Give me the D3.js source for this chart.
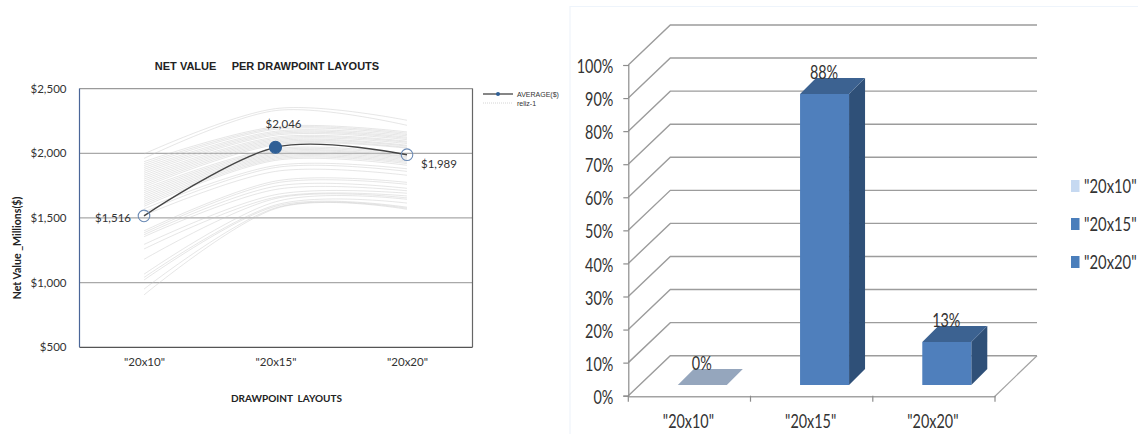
<!DOCTYPE html>
<html>
<head>
<meta charset="utf-8">
<script src="https://cdn.jsdelivr.net/npm/d3@7"></script>
<style>
html,body{margin:0;padding:0;background:#fff;overflow:hidden}
svg{display:block}
text{font-family:Lato,"Open Sans",sans-serif}
</style>
</head>
<body>
<svg id="chart" width="1138" height="434"></svg>
<script>
// Net value per layout
const layouts = ['"20x10"', '"20x15"', '"20x20"'];
const netTicks = [500, 1000, 1500, 2000, 2500];
const averageValues = [1516, 2046, 1989];
const realizationStart = [1995,1960,1935,1920,1905,1890,1875,1860,1845,1830,1815,1800,1785,1770,1755,1740,1725,1710,1695,1680,1665,1650,1635,1620,1605,1590,1570,1545,1520,1400,1385,1370,1355,1295,1260,1180,1065,1040,1020,950,905];
const realizationMid = [2345,2330,2205,2195,2185,2170,2160,2150,2140,2125,2115,2105,2095,2085,2075,2065,2035,2025,2015,2005,1995,1985,1975,1965,1955,1945,1905,1890,1860,1785,1770,1745,1720,1680,1660,1650,1625,1600,1590,1578,1572];
const realizationEnd = [2255,2216,2165,2155,2145,2135,2124,2115,2105,2093,2085,2075,2062,2055,2045,2039,1995,1985,1975,1969,1960,1950,1940,1930,1920,1907,1880,1860,1830,1775,1760,1729,1710,1691,1670,1655,1644,1615,1583,1575,1567];

// Share of runs per layout
const shareTicks = [0,10,20,30,40,50,60,70,80,90,100];
const shareValues = [0, 88, 13];
const legendColors = ["#c6d9f1", "#4a7ebb", "#4a7ebb"];

const svg = d3.select("#chart");

/* ---------- left panel: line chart ---------- */
const left = svg.append("g");
const xNet = d3.scalePoint().domain(layouts).range([144, 407]);
const yNet = d3.scaleLinear().domain([500, 2500]).range([347.3, 88.6]);
const smooth = d3.line().x((d, i) => xNet(layouts[i])).y(d => yNet(d))
  .curve(d3.curveCardinal.tension(0));

// horizontal gridlines
left.selectAll("line.grid").data([1000, 1500, 2000]).join("line")
  .attr("x1", 79.5).attr("x2", 472.5)
  .attr("y1", d => yNet(d)).attr("y2", d => yNet(d))
  .attr("stroke", "#a9a9a9").attr("stroke-width", 1.3);

// individual realizations
const realizations = realizationStart.map((s, i) => [s, realizationMid[i], realizationEnd[i]]);
left.selectAll("path.reliz").data(realizations).join("path")
  .attr("class", "reliz").attr("d", smooth).attr("fill", "none")
  .attr("stroke", "#c6c6c6").attr("stroke-width", 0.8).attr("stroke-opacity", 0.55);

// plot frame
left.append("line").attr("x1", 79.5).attr("x2", 472.5).attr("y1", 88.6).attr("y2", 88.6).attr("stroke", "#9a9a9a").attr("stroke-width", 1.2);
left.append("line").attr("x1", 472.5).attr("x2", 472.5).attr("y1", 88.6).attr("y2", 347.3).attr("stroke", "#666").attr("stroke-width", 1.2);
left.append("line").attr("x1", 79.5).attr("x2", 472.5).attr("y1", 347.3).attr("y2", 347.3).attr("stroke", "#555").attr("stroke-width", 1.2);
left.append("line").attr("x1", 79.5).attr("x2", 79.5).attr("y1", 88.6).attr("y2", 347.3).attr("stroke", "#4a6698").attr("stroke-width", 1.2);

// axis labels
const yAxisNet = left.append("g").attr("transform", "translate(79.5,0)")
  .call(d3.axisLeft(yNet).tickValues(netTicks).tickSize(0).tickPadding(13).tickFormat(d3.format("$,")));
yAxisNet.select(".domain").remove();
yAxisNet.selectAll("text").attr("font-size", 11.5).attr("fill", "#333").style("font-family", "Lato");
const xAxisNet = left.append("g").attr("transform", "translate(0,347.3)")
  .call(d3.axisBottom(xNet).tickSize(0).tickPadding(11));
xAxisNet.select(".domain").remove();
xAxisNet.selectAll("text").attr("font-size", 11.5).attr("fill", "#333").style("font-family", "Lato");

// average series
left.append("path").attr("d", smooth(averageValues)).attr("fill", "none")
  .attr("stroke", "#454545").attr("stroke-width", 1.4);
left.selectAll("circle.avg").data(averageValues).join("circle")
  .attr("class", "avg").attr("cx", (d, i) => xNet(layouts[i])).attr("cy", d => yNet(d))
  .attr("r", (d, i) => i === 1 ? 6 : 5.8)
  .attr("fill", (d, i) => i === 1 ? "#2f5f96" : "none")
  .attr("stroke", (d, i) => i === 1 ? "#2f5f96" : "#6a8ab5").attr("stroke-width", 1.1);
const avgLabelDx = [-13, 8, 14], avgLabelDy = [2, -23, 9], avgAnchor = ["end", "middle", "start"];
left.selectAll("text.avgLabel").data(averageValues).join("text")
  .attr("class", "avgLabel")
  .attr("x", (d, i) => xNet(layouts[i]) + avgLabelDx[i])
  .attr("y", (d, i) => yNet(d) + avgLabelDy[i])
  .attr("dy", "0.35em").attr("text-anchor", (d, i) => avgAnchor[i])
  .attr("font-size", 11.5).attr("fill", "#333").text(d3.format("$,"));

// titles
left.append("text").attr("x", 267).attr("y", 70).attr("text-anchor", "middle")
  .style("white-space", "pre")
  .style("font-family", "'Liberation Sans'").attr("font-size", 11).attr("font-weight", 700).attr("fill", "#222")
  .text("NET VALUE     PER DRAWPOINT LAYOUTS");
left.append("text").attr("x", 286.5).attr("y", 402).attr("text-anchor", "middle")
  .style("white-space", "pre").attr("font-size", 10).attr("font-weight", 700).attr("fill", "#222")
  .text("DRAWPOINT  LAYOUTS");
left.append("text").attr("transform", "translate(21,248) rotate(-90)").attr("text-anchor", "middle")
  .attr("font-size", 10.6).attr("font-weight", 700).attr("fill", "#222")
  .text("Net Value _Millions($)");

// legend
left.append("line").attr("x1", 483).attr("x2", 513).attr("y1", 94).attr("y2", 94).attr("stroke", "#454545").attr("stroke-width", 1.3);
left.append("circle").attr("cx", 498).attr("cy", 94).attr("r", 2).attr("fill", "#2f5f96");
left.append("line").attr("x1", 483).attr("x2", 513).attr("y1", 103).attr("y2", 103).attr("stroke", "#c9c9c9").attr("stroke-width", 0.8).attr("stroke-dasharray", "1 1");
left.selectAll("text.leg").data(["AVERAGE($)", "reliz-1"]).join("text")
  .attr("class", "leg").attr("x", 517).attr("y", (d, i) => 96.5 + i * 9)
  .style("font-family", "'Liberation Sans'").attr("font-size", 7).attr("fill", "#333").text(d => d);

/* ---------- right panel: pseudo 3D columns ---------- */
const right = svg.append("g");
const wallDx = 42, wallDy = -40, barDepth = 16, barInset = 10.7, barWidth = 49;
const xShare = d3.scaleBand().domain(layouts).range([628.3, 995]);
const yShare = d3.scaleLinear().domain([0, 100]).range([395.7, 65]);
const squeeze = 0.72;

// thin panel border
right.append("path").attr("d", "M570,434V6.5H1138").attr("fill", "none").attr("stroke", "#eef4fb").attr("stroke-width", 1.2);

// wall gridlines with their depth segment
const gridPath = d => {
  const y = yShare(d);
  return `M${628.3},${y}L${628.3 + wallDx},${y + wallDy}H${995 + wallDx}`;
};
right.selectAll("path.wall").data(shareTicks).join("path")
  .attr("class", "wall").attr("d", gridPath).attr("fill", "none")
  .attr("stroke", "#9c9c9c").attr("stroke-width", 1.4);

// floor edge on the right
right.append("path")
  .attr("d", `M995,${yShare(0) + 0.5}L${995 + wallDx},${yShare(0) + wallDy}`)
  .attr("fill", "none").attr("stroke", "#a3a3a3").attr("stroke-width", 1.2);

// value axis
const yAxisShare = right.append("g").attr("transform", "translate(628.3,0)")
  .call(d3.axisLeft(yShare).tickValues(shareTicks).tickSize(5).tickFormat(d => d + "%"));
yAxisShare.select(".domain").attr("stroke", "#8c8c8c").attr("stroke-width", 1.2);
yAxisShare.selectAll("line").attr("stroke", "#8c8c8c").attr("stroke-width", 1.2);
yAxisShare.selectAll("text").attr("x", 0).attr("dy", "0.33em")
  .attr("transform", "translate(-15,1) scale(" + squeeze + ",1)")
  .attr("font-size", 20).attr("fill", "#333");

// category axis
const xAxisShare = right.append("g").attr("transform", `translate(0,${yShare(0) + 0.5})`)
  .call(d3.axisBottom(xShare).tickSize(0));
xAxisShare.select(".domain").attr("stroke", "#a3a3a3").attr("stroke-width", 1.4);
right.selectAll("line.cut").data([628.3, 750.5, 872.8, 995]).join("line")
  .attr("class", "cut").attr("x1", d => d).attr("x2", d => d)
  .attr("y1", yShare(0)).attr("y2", yShare(0) + 6)
  .attr("stroke", "#8c8c8c").attr("stroke-width", 1.2);
xAxisShare.selectAll("text").attr("y", 0).attr("dy", 0)
  .attr("transform", "translate(-1,32) scale(" + squeeze + ",1)")
  .attr("font-size", 20).attr("fill", "#333");

// columns
const barX = c => xShare(c) + xShare.bandwidth() / 2 + 12.9 - barWidth / 2;
const barTop = v => yShare(v) - barInset;
const barBase = barTop(0);
layouts.forEach((c, i) => {
  const v = shareValues[i], x0 = barX(c), x1 = x0 + barWidth, y = barTop(v);
  const g = right.append("g");
  if (v > 0) {
    g.append("path").attr("fill", "#2f5078")
      .attr("d", `M${x1},${y}L${x1 + barDepth},${y - barDepth}V${barBase - barDepth}L${x1},${barBase}Z`);
    g.append("rect").attr("x", x0).attr("y", y).attr("width", barWidth).attr("height", barBase - y).attr("fill", "#4f7fbc");
  }
  g.append("path").attr("fill", v > 0 ? "#3c6291" : "#95a6bd")
    .attr("d", `M${x0},${y}L${x0 + barDepth},${y - barDepth}H${x1 + barDepth}L${x1},${y}Z`);
  g.append("text").attr("transform", `translate(${x0 + barWidth / 2 - 0.5},${y - 15}) scale(${squeeze},1)`)
    .attr("text-anchor", "middle").attr("font-size", 20).attr("fill", "#333").text(v + "%");
});

// legend
const legendY = d3.scalePoint().domain(layouts).range([186, 262]);
right.selectAll("rect.key").data(layouts).join("rect")
  .attr("class", "key").attr("x", 1071).attr("y", d => legendY(d) - 6)
  .attr("width", 8.5).attr("height", 12).attr("fill", (d, i) => legendColors[i]);
right.selectAll("text.key").data(layouts).join("text")
  .attr("class", "key")
  .attr("transform", d => `translate(1084,${legendY(d) + 7}) scale(0.74,1)`)
  .attr("font-size", 20).attr("fill", "#333").text(d => d);
</script>
</body>
</html>
